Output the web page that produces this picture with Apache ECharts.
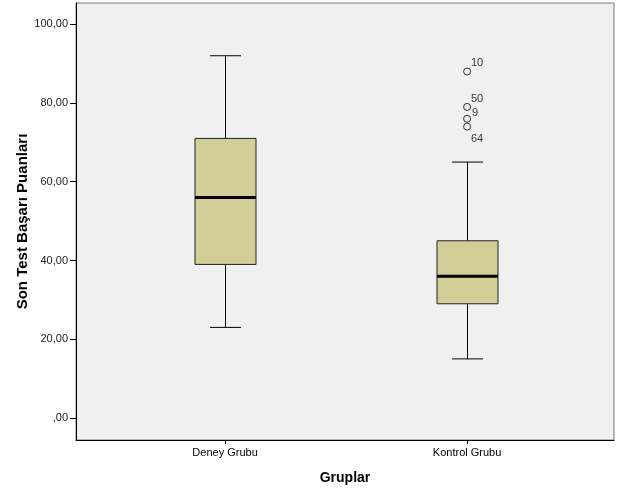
<!DOCTYPE html>
<html>
<head>
<meta charset="utf-8">
<script src="https://cdn.jsdelivr.net/npm/echarts@6/dist/echarts.min.js"></script>
<style>html,body{margin:0;padding:0;background:#fff;}#c{width:618px;height:494px;}</style>
</head>
<body>
<div id="c"></div>
<script>
// ---- data ----
const categories = ['Deney Grubu', 'Kontrol Grubu'];
const whiskerLow = [23, 15];
const q1 = [39, 29];
const median = [56, 36];
const q3 = [71, 45];
const whiskerHigh = [92, 65];
const outlierGroup = [2, 2, 2, 2];
const outlierValues = [88, 79, 76, 74];
const outlierLabels = ['10', '50', '9', '64'];
const yTicks = [0, 20, 40, 60, 80, 100];

// ---- styles ----
const labelOffsets = [[10, -9], [10, -8], [8, -6], [10, 12]];
const BOX_W = 61, CAP_W = 31;

const boxData = categories.map((c, i) => [i + 1, whiskerLow[i], q1[i], median[i], q3[i], whiskerHigh[i]]);
const outData = outlierValues.map((v, i) => ({
  value: [outlierGroup[i], v],
  label: { show: true, formatter: outlierLabels[i], position: 'inside', offset: labelOffsets[i],
           color: '#000', fontSize: 11, fontFamily: 'Liberation Sans, Arial' }
}));

const chart = echarts.init(document.getElementById('c'), null, { renderer: 'canvas' });
chart.setOption({
  animation: false,
  backgroundColor: '#ffffff',
  grid: { left: 76, top: 3, right: 4, bottom: 54, show: true, backgroundColor: '#f0f0f0',
          borderColor: '#777', borderWidth: 1 },
  xAxis: {
    type: 'value', min: 0.384, max: 2.607,
    name: 'Gruplar', nameLocation: 'middle', nameGap: 31,
    nameTextStyle: { fontSize: 14, fontWeight: 'bold', color: '#000', fontFamily: 'Liberation Sans, Arial' },
    axisLine: { show: true, onZero: false, lineStyle: { color: '#000', width: 1 } },
    axisTick: { show: true, length: 4, customValues: [1, 2], lineStyle: { color: '#000' } },
    axisLabel: { customValues: [1, 2], formatter: v => categories[Math.round(v) - 1] || '',
                 color: '#000', fontSize: 11, margin: 7, fontFamily: 'Liberation Sans, Arial' },
    splitLine: { show: false }
  },
  yAxis: {
    type: 'value', min: -5.6, max: 105.4,
    name: 'Son Test Başarı Puanları', nameLocation: 'middle', nameGap: 46,
    nameMoveOverlap: false,
    nameTextStyle: { fontSize: 15, fontWeight: 'bold', color: '#000', fontFamily: 'Liberation Sans, Arial' },
    axisLine: { show: true, onZero: false, lineStyle: { color: '#000', width: 1 } },
    axisTick: { show: true, length: 6, customValues: yTicks, lineStyle: { color: '#000' } },
    axisLabel: { customValues: yTicks, formatter: v => v === 0 ? ',00' : v.toFixed(2).replace('.', ','),
                 color: '#222', fontSize: 11, margin: 8, fontFamily: 'Liberation Sans, Arial' },
    splitLine: { show: false }
  },
  series: [
    {
      type: 'custom',
      data: boxData,
      encode: { x: 0, y: [1, 2, 3, 4, 5] },
      renderItem: function (params, api) {
        const x = api.value(0);
        const pLow = api.coord([x, api.value(1)]);
        const pQ1 = api.coord([x, api.value(2)]);
        const pMed = api.coord([x, api.value(3)]);
        const pQ3 = api.coord([x, api.value(4)]);
        const pHigh = api.coord([x, api.value(5)]);
        const cx = Math.round(pMed[0]) + 0.5;
        const ln = (x1, y1, x2, y2, w) => ({ type: 'line', shape: { x1, y1, x2, y2 },
          style: { stroke: '#000', lineWidth: w || 1 } });
        return {
          type: 'group',
          children: [
            ln(cx, pHigh[1], cx, pQ3[1]),
            ln(cx, pQ1[1], cx, pLow[1]),
            ln(cx - CAP_W / 2, pHigh[1], cx + CAP_W / 2, pHigh[1]),
            ln(cx - CAP_W / 2, pLow[1], cx + CAP_W / 2, pLow[1]),
            { type: 'rect', shape: { x: cx - BOX_W / 2, y: pQ3[1], width: BOX_W, height: pQ1[1] - pQ3[1] },
              style: { fill: '#d3ce98', stroke: '#222', lineWidth: 1 } },
            ln(cx - BOX_W / 2, pMed[1], cx + BOX_W / 2, pMed[1], 3)
          ]
        };
      }
    },
    {
      type: 'scatter',
      data: outData,
      symbol: 'circle',
      symbolSize: 7,
      itemStyle: { color: '#f0f0f0', borderColor: '#000', borderWidth: 1 }
    }
  ]
});
</script>
</body>
</html>
